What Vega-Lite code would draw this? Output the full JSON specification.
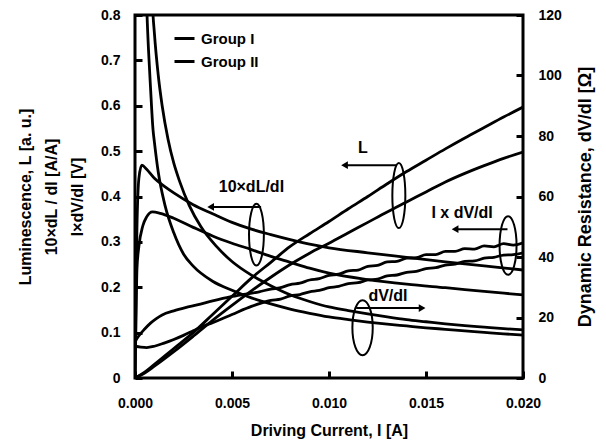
{
  "$schema": "https://vega.github.io/schema/vega-lite/v6.json",
  "width": 388,
  "height": 363,
  "autosize": {"type": "none"},
  "padding": {"left": 135, "top": 15, "right": 83, "bottom": 65},
  "background": "white",
  "config": {
    "view": {"stroke": "black", "strokeWidth": 3},
    "font": "Liberation Sans",
    "axis": {
      "grid": false,
      "domain": false,
      "labelFlush": false,
      "labelFont": "Liberation Sans",
      "labelFontWeight": "bold",
      "labelFontSize": 14,
      "labelColor": "black",
      "titleFont": "Liberation Sans",
      "titleFontWeight": "bold",
      "titleFontSize": 16,
      "titleColor": "black",
      "tickColor": "black",
      "tickWidth": 3,
      "tickSize": 7,
      "offset": -7,
      "zindex": 2
    },
    "legend": {
      "labelFont": "Liberation Sans",
      "labelFontWeight": "bold",
      "labelFontSize": 15,
      "labelColor": "black"
    }
  },
  "datasets": {
    "left": [
      {"qty": "L", "group": "Group I", "I": 0, "v": 0},
      {"qty": "L", "group": "Group I", "I": 0.0005, "v": 0.013},
      {"qty": "L", "group": "Group I", "I": 0.001, "v": 0.03},
      {"qty": "L", "group": "Group I", "I": 0.002, "v": 0.065},
      {"qty": "L", "group": "Group I", "I": 0.003, "v": 0.1},
      {"qty": "L", "group": "Group I", "I": 0.004, "v": 0.14},
      {"qty": "L", "group": "Group I", "I": 0.005, "v": 0.18},
      {"qty": "L", "group": "Group I", "I": 0.006, "v": 0.22},
      {"qty": "L", "group": "Group I", "I": 0.007, "v": 0.255},
      {"qty": "L", "group": "Group I", "I": 0.008, "v": 0.29},
      {"qty": "L", "group": "Group I", "I": 0.009, "v": 0.318},
      {"qty": "L", "group": "Group I", "I": 0.010, "v": 0.345},
      {"qty": "L", "group": "Group I", "I": 0.011, "v": 0.373},
      {"qty": "L", "group": "Group I", "I": 0.012, "v": 0.40},
      {"qty": "L", "group": "Group I", "I": 0.013, "v": 0.428},
      {"qty": "L", "group": "Group I", "I": 0.014, "v": 0.455},
      {"qty": "L", "group": "Group I", "I": 0.015, "v": 0.48},
      {"qty": "L", "group": "Group I", "I": 0.016, "v": 0.505},
      {"qty": "L", "group": "Group I", "I": 0.017, "v": 0.529},
      {"qty": "L", "group": "Group I", "I": 0.018, "v": 0.552},
      {"qty": "L", "group": "Group I", "I": 0.019, "v": 0.575},
      {"qty": "L", "group": "Group I", "I": 0.020, "v": 0.597},

      {"qty": "L", "group": "Group II", "I": 0, "v": 0},
      {"qty": "L", "group": "Group II", "I": 0.0005, "v": 0.011},
      {"qty": "L", "group": "Group II", "I": 0.001, "v": 0.026},
      {"qty": "L", "group": "Group II", "I": 0.002, "v": 0.058},
      {"qty": "L", "group": "Group II", "I": 0.003, "v": 0.092},
      {"qty": "L", "group": "Group II", "I": 0.004, "v": 0.127},
      {"qty": "L", "group": "Group II", "I": 0.005, "v": 0.16},
      {"qty": "L", "group": "Group II", "I": 0.006, "v": 0.192},
      {"qty": "L", "group": "Group II", "I": 0.007, "v": 0.222},
      {"qty": "L", "group": "Group II", "I": 0.008, "v": 0.25},
      {"qty": "L", "group": "Group II", "I": 0.009, "v": 0.275},
      {"qty": "L", "group": "Group II", "I": 0.010, "v": 0.297},
      {"qty": "L", "group": "Group II", "I": 0.011, "v": 0.32},
      {"qty": "L", "group": "Group II", "I": 0.012, "v": 0.343},
      {"qty": "L", "group": "Group II", "I": 0.013, "v": 0.366},
      {"qty": "L", "group": "Group II", "I": 0.014, "v": 0.388},
      {"qty": "L", "group": "Group II", "I": 0.015, "v": 0.41},
      {"qty": "L", "group": "Group II", "I": 0.016, "v": 0.432},
      {"qty": "L", "group": "Group II", "I": 0.017, "v": 0.451},
      {"qty": "L", "group": "Group II", "I": 0.018, "v": 0.468},
      {"qty": "L", "group": "Group II", "I": 0.019, "v": 0.484},
      {"qty": "L", "group": "Group II", "I": 0.020, "v": 0.498},

      {"qty": "dL", "group": "Group I", "I": 0, "v": 0},
      {"qty": "dL", "group": "Group I", "I": 0.00005, "v": 0.2},
      {"qty": "dL", "group": "Group I", "I": 0.0001, "v": 0.33},
      {"qty": "dL", "group": "Group I", "I": 0.0002, "v": 0.44},
      {"qty": "dL", "group": "Group I", "I": 0.00035, "v": 0.469},
      {"qty": "dL", "group": "Group I", "I": 0.0006, "v": 0.46},
      {"qty": "dL", "group": "Group I", "I": 0.001, "v": 0.44},
      {"qty": "dL", "group": "Group I", "I": 0.0015, "v": 0.423},
      {"qty": "dL", "group": "Group I", "I": 0.002, "v": 0.408},
      {"qty": "dL", "group": "Group I", "I": 0.003, "v": 0.382},
      {"qty": "dL", "group": "Group I", "I": 0.004, "v": 0.362},
      {"qty": "dL", "group": "Group I", "I": 0.005, "v": 0.343},
      {"qty": "dL", "group": "Group I", "I": 0.006, "v": 0.328},
      {"qty": "dL", "group": "Group I", "I": 0.007, "v": 0.316},
      {"qty": "dL", "group": "Group I", "I": 0.008, "v": 0.305},
      {"qty": "dL", "group": "Group I", "I": 0.009, "v": 0.295},
      {"qty": "dL", "group": "Group I", "I": 0.010, "v": 0.287},
      {"qty": "dL", "group": "Group I", "I": 0.012, "v": 0.276},
      {"qty": "dL", "group": "Group I", "I": 0.014, "v": 0.266},
      {"qty": "dL", "group": "Group I", "I": 0.016, "v": 0.256},
      {"qty": "dL", "group": "Group I", "I": 0.018, "v": 0.247},
      {"qty": "dL", "group": "Group I", "I": 0.020, "v": 0.238},

      {"qty": "dL", "group": "Group II", "I": 0, "v": 0},
      {"qty": "dL", "group": "Group II", "I": 0.00005, "v": 0.12},
      {"qty": "dL", "group": "Group II", "I": 0.0001, "v": 0.24},
      {"qty": "dL", "group": "Group II", "I": 0.0002, "v": 0.29},
      {"qty": "dL", "group": "Group II", "I": 0.0004, "v": 0.335},
      {"qty": "dL", "group": "Group II", "I": 0.0006, "v": 0.355},
      {"qty": "dL", "group": "Group II", "I": 0.0009, "v": 0.366},
      {"qty": "dL", "group": "Group II", "I": 0.0013, "v": 0.363},
      {"qty": "dL", "group": "Group II", "I": 0.002, "v": 0.352},
      {"qty": "dL", "group": "Group II", "I": 0.003, "v": 0.332},
      {"qty": "dL", "group": "Group II", "I": 0.004, "v": 0.313},
      {"qty": "dL", "group": "Group II", "I": 0.005, "v": 0.297},
      {"qty": "dL", "group": "Group II", "I": 0.006, "v": 0.283},
      {"qty": "dL", "group": "Group II", "I": 0.007, "v": 0.268},
      {"qty": "dL", "group": "Group II", "I": 0.008, "v": 0.255},
      {"qty": "dL", "group": "Group II", "I": 0.009, "v": 0.242},
      {"qty": "dL", "group": "Group II", "I": 0.010, "v": 0.231},
      {"qty": "dL", "group": "Group II", "I": 0.012, "v": 0.217},
      {"qty": "dL", "group": "Group II", "I": 0.014, "v": 0.207},
      {"qty": "dL", "group": "Group II", "I": 0.016, "v": 0.199},
      {"qty": "dL", "group": "Group II", "I": 0.018, "v": 0.191},
      {"qty": "dL", "group": "Group II", "I": 0.020, "v": 0.183},

      {"qty": "IdV", "group": "Group I", "I": 0, "v": 0.08},
      {"qty": "IdV", "group": "Group I", "I": 0.0002, "v": 0.093},
      {"qty": "IdV", "group": "Group I", "I": 0.0005, "v": 0.108},
      {"qty": "IdV", "group": "Group I", "I": 0.0008, "v": 0.121},
      {"qty": "IdV", "group": "Group I", "I": 0.0011, "v": 0.131},
      {"qty": "IdV", "group": "Group I", "I": 0.0014, "v": 0.139},
      {"qty": "IdV", "group": "Group I", "I": 0.002, "v": 0.148},
      {"qty": "IdV", "group": "Group I", "I": 0.0026, "v": 0.155},
      {"qty": "IdV", "group": "Group I", "I": 0.0032, "v": 0.161},
      {"qty": "IdV", "group": "Group I", "I": 0.004, "v": 0.17},
      {"qty": "IdV", "group": "Group I", "I": 0.0049, "v": 0.179},
      {"qty": "IdV", "group": "Group I", "I": 0.0057, "v": 0.185},
      {"qty": "IdV", "group": "Group I", "I": 0.0064, "v": 0.19},
      {"qty": "IdV", "group": "Group I", "I": 0.007, "v": 0.196},
      {"qty": "IdV", "group": "Group I", "I": 0.0075, "v": 0.199},
      {"qty": "IdV", "group": "Group I", "I": 0.008, "v": 0.206},
      {"qty": "IdV", "group": "Group I", "I": 0.0085, "v": 0.209},
      {"qty": "IdV", "group": "Group I", "I": 0.009, "v": 0.216},
      {"qty": "IdV", "group": "Group I", "I": 0.0095, "v": 0.219},
      {"qty": "IdV", "group": "Group I", "I": 0.010, "v": 0.226},
      {"qty": "IdV", "group": "Group I", "I": 0.0105, "v": 0.229},
      {"qty": "IdV", "group": "Group I", "I": 0.011, "v": 0.236},
      {"qty": "IdV", "group": "Group I", "I": 0.0115, "v": 0.238},
      {"qty": "IdV", "group": "Group I", "I": 0.012, "v": 0.246},
      {"qty": "IdV", "group": "Group I", "I": 0.0125, "v": 0.248},
      {"qty": "IdV", "group": "Group I", "I": 0.013, "v": 0.256},
      {"qty": "IdV", "group": "Group I", "I": 0.0135, "v": 0.257},
      {"qty": "IdV", "group": "Group I", "I": 0.014, "v": 0.264},
      {"qty": "IdV", "group": "Group I", "I": 0.0145, "v": 0.265},
      {"qty": "IdV", "group": "Group I", "I": 0.015, "v": 0.272},
      {"qty": "IdV", "group": "Group I", "I": 0.0155, "v": 0.272},
      {"qty": "IdV", "group": "Group I", "I": 0.016, "v": 0.279},
      {"qty": "IdV", "group": "Group I", "I": 0.0165, "v": 0.279},
      {"qty": "IdV", "group": "Group I", "I": 0.017, "v": 0.285},
      {"qty": "IdV", "group": "Group I", "I": 0.0175, "v": 0.284},
      {"qty": "IdV", "group": "Group I", "I": 0.018, "v": 0.291},
      {"qty": "IdV", "group": "Group I", "I": 0.0185, "v": 0.289},
      {"qty": "IdV", "group": "Group I", "I": 0.019, "v": 0.296},
      {"qty": "IdV", "group": "Group I", "I": 0.0195, "v": 0.293},
      {"qty": "IdV", "group": "Group I", "I": 0.020, "v": 0.298},

      {"qty": "IdV", "group": "Group II", "I": 0, "v": 0.07},
      {"qty": "IdV", "group": "Group II", "I": 0.0003, "v": 0.068},
      {"qty": "IdV", "group": "Group II", "I": 0.0006, "v": 0.067},
      {"qty": "IdV", "group": "Group II", "I": 0.001, "v": 0.07},
      {"qty": "IdV", "group": "Group II", "I": 0.0015, "v": 0.077},
      {"qty": "IdV", "group": "Group II", "I": 0.002, "v": 0.085},
      {"qty": "IdV", "group": "Group II", "I": 0.0025, "v": 0.094},
      {"qty": "IdV", "group": "Group II", "I": 0.003, "v": 0.104},
      {"qty": "IdV", "group": "Group II", "I": 0.0035, "v": 0.114},
      {"qty": "IdV", "group": "Group II", "I": 0.004, "v": 0.122},
      {"qty": "IdV", "group": "Group II", "I": 0.005, "v": 0.14},
      {"qty": "IdV", "group": "Group II", "I": 0.006, "v": 0.158},
      {"qty": "IdV", "group": "Group II", "I": 0.0065, "v": 0.165},
      {"qty": "IdV", "group": "Group II", "I": 0.007, "v": 0.171},
      {"qty": "IdV", "group": "Group II", "I": 0.0075, "v": 0.174},
      {"qty": "IdV", "group": "Group II", "I": 0.008, "v": 0.181},
      {"qty": "IdV", "group": "Group II", "I": 0.0085, "v": 0.184},
      {"qty": "IdV", "group": "Group II", "I": 0.009, "v": 0.19},
      {"qty": "IdV", "group": "Group II", "I": 0.0095, "v": 0.193},
      {"qty": "IdV", "group": "Group II", "I": 0.010, "v": 0.199},
      {"qty": "IdV", "group": "Group II", "I": 0.0105, "v": 0.202},
      {"qty": "IdV", "group": "Group II", "I": 0.011, "v": 0.208},
      {"qty": "IdV", "group": "Group II", "I": 0.0115, "v": 0.21},
      {"qty": "IdV", "group": "Group II", "I": 0.012, "v": 0.216},
      {"qty": "IdV", "group": "Group II", "I": 0.0125, "v": 0.218},
      {"qty": "IdV", "group": "Group II", "I": 0.013, "v": 0.225},
      {"qty": "IdV", "group": "Group II", "I": 0.0135, "v": 0.227},
      {"qty": "IdV", "group": "Group II", "I": 0.014, "v": 0.233},
      {"qty": "IdV", "group": "Group II", "I": 0.0145, "v": 0.235},
      {"qty": "IdV", "group": "Group II", "I": 0.015, "v": 0.241},
      {"qty": "IdV", "group": "Group II", "I": 0.0155, "v": 0.243},
      {"qty": "IdV", "group": "Group II", "I": 0.016, "v": 0.249},
      {"qty": "IdV", "group": "Group II", "I": 0.0165, "v": 0.251},
      {"qty": "IdV", "group": "Group II", "I": 0.017, "v": 0.257},
      {"qty": "IdV", "group": "Group II", "I": 0.0175, "v": 0.258},
      {"qty": "IdV", "group": "Group II", "I": 0.018, "v": 0.264},
      {"qty": "IdV", "group": "Group II", "I": 0.0185, "v": 0.266},
      {"qty": "IdV", "group": "Group II", "I": 0.019, "v": 0.271},
      {"qty": "IdV", "group": "Group II", "I": 0.0195, "v": 0.272},
      {"qty": "IdV", "group": "Group II", "I": 0.020, "v": 0.276}
    ],
    "right": [
      {"group": "Group I", "I": 0.00085, "R": 135},
      {"group": "Group I", "I": 0.0009, "R": 124},
      {"group": "Group I", "I": 0.001, "R": 114},
      {"group": "Group I", "I": 0.0012, "R": 100},
      {"group": "Group I", "I": 0.0014, "R": 90},
      {"group": "Group I", "I": 0.0017, "R": 79},
      {"group": "Group I", "I": 0.002, "R": 71},
      {"group": "Group I", "I": 0.0023, "R": 65},
      {"group": "Group I", "I": 0.0028, "R": 57},
      {"group": "Group I", "I": 0.0034, "R": 50},
      {"group": "Group I", "I": 0.0042, "R": 43.5},
      {"group": "Group I", "I": 0.005, "R": 38.5},
      {"group": "Group I", "I": 0.006, "R": 34},
      {"group": "Group I", "I": 0.007, "R": 30.5},
      {"group": "Group I", "I": 0.008, "R": 27.5},
      {"group": "Group I", "I": 0.009, "R": 25.3},
      {"group": "Group I", "I": 0.010, "R": 23.5},
      {"group": "Group I", "I": 0.011, "R": 22.3},
      {"group": "Group I", "I": 0.012, "R": 21.2},
      {"group": "Group I", "I": 0.013, "R": 20.2},
      {"group": "Group I", "I": 0.014, "R": 19.3},
      {"group": "Group I", "I": 0.015, "R": 18.6},
      {"group": "Group I", "I": 0.016, "R": 17.9},
      {"group": "Group I", "I": 0.017, "R": 17.3},
      {"group": "Group I", "I": 0.018, "R": 16.8},
      {"group": "Group I", "I": 0.019, "R": 16.3},
      {"group": "Group I", "I": 0.020, "R": 15.9},

      {"group": "Group II", "I": 0.00055, "R": 135},
      {"group": "Group II", "I": 0.00062, "R": 120},
      {"group": "Group II", "I": 0.0007, "R": 108},
      {"group": "Group II", "I": 0.0008, "R": 96},
      {"group": "Group II", "I": 0.00093, "R": 82},
      {"group": "Group II", "I": 0.001, "R": 78},
      {"group": "Group II", "I": 0.0012, "R": 68},
      {"group": "Group II", "I": 0.00155, "R": 57},
      {"group": "Group II", "I": 0.002, "R": 48},
      {"group": "Group II", "I": 0.0025, "R": 41},
      {"group": "Group II", "I": 0.003, "R": 37},
      {"group": "Group II", "I": 0.004, "R": 32},
      {"group": "Group II", "I": 0.005, "R": 29},
      {"group": "Group II", "I": 0.006, "R": 26.5},
      {"group": "Group II", "I": 0.007, "R": 24.5},
      {"group": "Group II", "I": 0.008, "R": 22.8},
      {"group": "Group II", "I": 0.009, "R": 21.4},
      {"group": "Group II", "I": 0.010, "R": 20.2},
      {"group": "Group II", "I": 0.011, "R": 19.3},
      {"group": "Group II", "I": 0.012, "R": 18.5},
      {"group": "Group II", "I": 0.013, "R": 17.8},
      {"group": "Group II", "I": 0.014, "R": 17.2},
      {"group": "Group II", "I": 0.015, "R": 16.6},
      {"group": "Group II", "I": 0.016, "R": 16.1},
      {"group": "Group II", "I": 0.017, "R": 15.6},
      {"group": "Group II", "I": 0.018, "R": 15.1},
      {"group": "Group II", "I": 0.019, "R": 14.6},
      {"group": "Group II", "I": 0.020, "R": 14.2}
    ],
    "labels": [
      {"label": "L", "I": 0.01175, "v": 0.507},
      {"label": "10×dL/dI", "I": 0.006, "v": 0.421},
      {"label": "I x dV/dI", "I": 0.01686, "v": 0.364},
      {"label": "dV/dI", "I": 0.01304, "v": 0.181}
    ],
    "arrows": [
      {"name": "L", "I1": 0.0135, "I2": 0.0108, "v": 0.469, "dir": "left"},
      {"name": "10dL", "I1": 0.0065, "I2": 0.0039, "v": 0.377, "dir": "left"},
      {"name": "IdV", "I1": 0.0192, "I2": 0.0165, "v": 0.328, "dir": "left"},
      {"name": "dV", "I1": 0.0114, "I2": 0.0148, "v": 0.154, "dir": "right"}
    ],
    "loops": [
      {"name": "L", "I": 0.0136, "v": 0.402},
      {"name": "10dL", "I": 0.00626, "v": 0.316},
      {"name": "IdV", "I": 0.01923, "v": 0.292},
      {"name": "dV", "I": 0.01173, "v": 0.111}
    ]
  },
  "encoding": {
    "x": {
      "field": "I", "type": "quantitative",
      "scale": {"domain": [0, 0.02], "nice": false},
      "axis": {
        "title": "Driving Current, I [A]",
        "values": [0, 0.005, 0.01, 0.015, 0.02],
        "format": ".3f",
        "labelPadding": 18,
        "titlePadding": 12
      }
    }
  },
  "layer": [
    {
      "data": {"name": "left"},
      "mark": {"type": "line", "strokeWidth": 2.8, "clip": true, "interpolate": "monotone"},
      "encoding": {
        "y": {
          "field": "v", "type": "quantitative",
          "scale": {"domain": [0, 0.8], "nice": false},
          "axis": {
            "title": ["Luminescence, L [a. u.]", "10×dL / dI [A/A]", "I×dV/dI [V]"],
            "titleLineHeight": 26,
            "values": [0, 0.1, 0.2, 0.3, 0.4, 0.5, 0.6, 0.7, 0.8],
            "labelExpr": "datum.value == 0 ? '0' : format(datum.value, '.1f')",
            "labelPadding": 15,
            "titlePadding": 15
          }
        },
        "color": {
          "field": "group", "type": "nominal",
          "scale": {"domain": ["Group I", "Group II"], "range": ["black", "black"]},
          "legend": {
            "title": null,
            "orient": "none",
            "legendX": 38,
            "legendY": 12,
            "symbolType": "stroke",
            "symbolSize": 400,
            "symbolStrokeWidth": 3,
            "rowPadding": 3,
            "labelOffset": 5
          }
        },
        "detail": {"field": "qty", "type": "nominal"}
      }
    },
    {
      "data": {"name": "right"},
      "mark": {"type": "line", "strokeWidth": 2.8, "clip": true, "interpolate": "monotone"},
      "encoding": {
        "y": {
          "field": "R", "type": "quantitative",
          "scale": {"domain": [0, 120], "nice": false},
          "axis": {
            "orient": "right",
            "title": "Dynamic Resistance, dV/dI [Ω]",
            "titleAngle": 270,
            "titleFontSize": 18,
            "values": [0, 20, 40, 60, 80, 100, 120],
            "labelPadding": 15,
            "titlePadding": 33
          }
        },
        "color": {"field": "group", "type": "nominal", "scale": {"domain": ["Group I", "Group II"], "range": ["black", "black"]}, "legend": null}
      }
    },
    {
      "data": {"name": "labels"},
      "mark": {"type": "text", "font": "Liberation Sans", "fontWeight": "bold", "fontSize": 16, "color": "black", "align": "center", "baseline": "middle"},
      "encoding": {
        "y": {"field": "v", "type": "quantitative", "scale": {"domain": [0, 0.8], "nice": false}, "axis": null},
        "text": {"field": "label"}
      }
    },
    {
      "data": {"name": "arrows"},
      "mark": {"type": "rule", "strokeWidth": 2, "color": "black"},
      "encoding": {
        "x": {"field": "I1", "type": "quantitative", "scale": {"domain": [0, 0.02], "nice": false}},
        "x2": {"field": "I2"},
        "y": {"field": "v", "type": "quantitative", "scale": {"domain": [0, 0.8], "nice": false}, "axis": null}
      }
    },
    {
      "data": {"name": "arrows"},
      "transform": [{"filter": "datum.dir == 'left'"}],
      "mark": {"type": "point", "shape": "triangle-left", "filled": true, "size": 60, "opacity": 1, "color": "black"},
      "encoding": {
        "x": {"field": "I2", "type": "quantitative", "scale": {"domain": [0, 0.02], "nice": false}},
        "y": {"field": "v", "type": "quantitative", "scale": {"domain": [0, 0.8], "nice": false}, "axis": null}
      }
    },
    {
      "data": {"name": "arrows"},
      "transform": [{"filter": "datum.dir == 'right'"}],
      "mark": {"type": "point", "shape": "triangle-right", "filled": true, "size": 60, "opacity": 1, "color": "black"},
      "encoding": {
        "x": {"field": "I2", "type": "quantitative", "scale": {"domain": [0, 0.02], "nice": false}},
        "y": {"field": "v", "type": "quantitative", "scale": {"domain": [0, 0.8], "nice": false}, "axis": null}
      }
    },
    {
      "data": {"name": "loops"},
      "mark": {"type": "point", "filled": false, "strokeWidth": 2, "opacity": 1, "color": "black"},
      "encoding": {
        "y": {"field": "v", "type": "quantitative", "scale": {"domain": [0, 0.8], "nice": false}, "axis": null},
        "shape": {
          "field": "name", "type": "nominal",
          "scale": {
            "domain": ["L", "10dL", "IdV", "dV"],
            "range": [
              "M0,-1A0.2,1 0 1,1 0,1A0.2,1 0 1,1 0,-1Z",
              "M0,-1A0.24,1 0 1,1 0,1A0.24,1 0 1,1 0,-1Z",
              "M0,-1A0.29,1 0 1,1 0,1A0.29,1 0 1,1 0,-1Z",
              "M0,-1A0.37,1 0 1,1 0,1A0.37,1 0 1,1 0,-1Z"
            ]
          },
          "legend": null
        },
        "size": {
          "field": "name", "type": "nominal",
          "scale": {"domain": ["L", "10dL", "IdV", "dV"], "range": [4225, 3025, 1225, 1600]},
          "legend": null
        }
      }
    }
  ],
  "resolve": {"scale": {"y": "independent"}}
}
